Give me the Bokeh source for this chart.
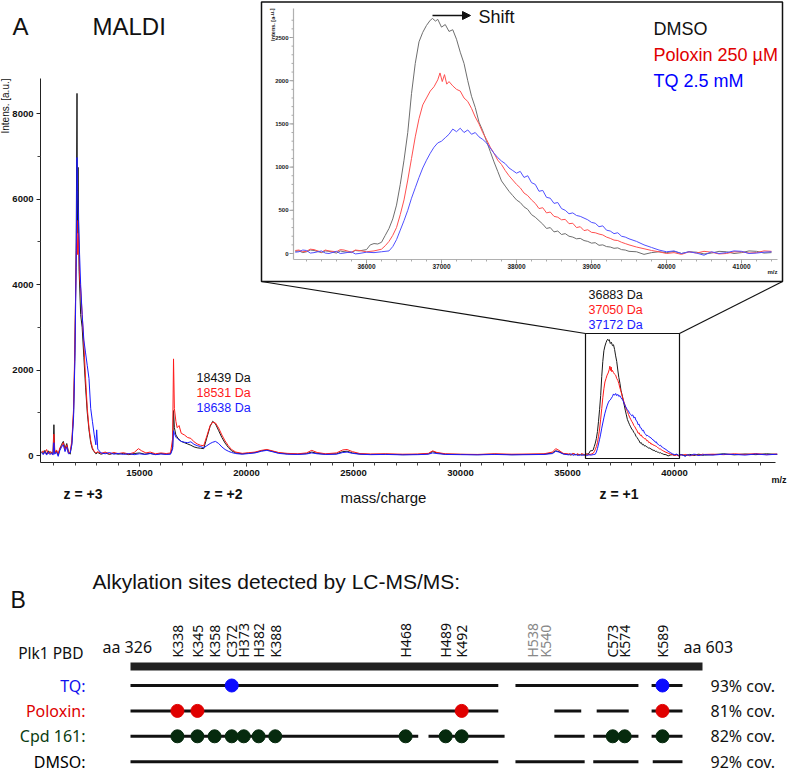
import math
from bokeh.plotting import figure
from bokeh.models import Range1d, LinearAxis, FixedTicker, Arrow, NormalHead
from bokeh.layouts import column
from bokeh.embed import file_html
from bokeh.resources import INLINE
from bokeh.core.properties import value

# ---------------- DATA ----------------
# MALDI spectrum, low-mass part (m/z, intensity)
dmso_lo = [(10420, 90), (10500, 40), (10580, 120), (10660, 30), (10740, 110), (10820, 50), (10900, 80),
           (10960, 40), (11000, 720), (11040, 60), (11120, 110), (11200, 10), (11280, 150), (11360, 260),
           (11440, 330), (11520, 160), (11600, 280), (11680, 90), (11760, 30), (11840, 300), (11920, 1000),
           (11980, 2400), (12040, 4800), (12080, 8470), (12100, 5200), (12130, 6740), (12180, 4300),
           (12250, 3300), (12320, 3000), (12400, 2300), (12480, 1600), (12560, 1000), (12640, 600),
           (12720, 300), (12800, 150), (12880, 90), (12960, 40), (13050, 70), (13200, 30), (13400, 60),
           (13600, 25), (13800, 55), (14000, 30), (14250, 50), (14500, 20), (14750, 45), (15000, 60),
           (15250, 30), (15500, 50), (15750, 25), (16000, 45), (16250, 30), (16450, 40), (16550, 200),
           (16590, 1050), (16630, 650), (16700, 480), (16800, 400), (16950, 330), (17100, 300), (17250, 270),
           (17400, 240), (17550, 200), (17700, 180), (17850, 170), (18000, 160), (18150, 420), (18300, 680),
           (18420, 800), (18550, 740), (18700, 580), (18850, 420), (19000, 290), (19150, 190), (19300, 110),
           (19500, 60), (19800, 40), (20100, 55), (20400, 70), (20700, 110), (20950, 130), (21200, 100),
           (21500, 60), (21900, 40), (22400, 30), (22800, 45), (23050, 80), (23300, 50), (23700, 30),
           (24200, 40), (24500, 90), (24700, 100), (24950, 60), (25300, 35), (25800, 25), (26500, 30),
           (27300, 20), (28000, 25), (28500, 40), (28700, 90), (28900, 60), (29300, 30), (30000, 25),
           (30800, 20), (31600, 30), (32400, 20), (33200, 25), (33900, 30), (34300, 60), (34450, 110),
           (34600, 90), (34800, 40)]
polo_lo = [(10420, 60), (10500, 110), (10580, 50), (10660, 140), (10740, 40), (10820, 100), (10900, 30),
           (10960, 90), (11000, 500), (11040, 50), (11120, 130), (11200, 40), (11280, 180), (11360, 220),
           (11440, 300), (11520, 120), (11600, 250), (11680, 60), (11760, 80), (11840, 350), (11920, 1100),
           (11980, 2600), (12040, 4600), (12080, 5500), (12110, 4700), (12150, 5200), (12200, 4200),
           (12250, 3900), (12320, 3300), (12400, 2600), (12480, 1800), (12560, 1100), (12640, 650),
           (12720, 350), (12800, 180), (12880, 100), (12960, 60), (13050, 90), (13200, 50), (13400, 80),
           (13600, 40), (13800, 70), (14000, 45), (14250, 65), (14500, 35), (14750, 70), (14950, 160),
           (15100, 110), (15300, 60), (15500, 80), (15750, 40), (16000, 60), (16250, 45), (16450, 60),
           (16550, 400), (16590, 2260), (16630, 1100), (16700, 800), (16760, 650), (16850, 700), (16950, 520),
           (17100, 480), (17250, 420), (17400, 400), (17550, 320), (17700, 270), (17850, 240), (18000, 230),
           (18150, 460), (18300, 700), (18420, 780), (18550, 760), (18700, 640), (18850, 480), (19000, 340),
           (19150, 230), (19300, 140), (19500, 80), (19800, 50), (20100, 65), (20400, 80), (20700, 120),
           (20950, 140), (21200, 110), (21500, 70), (21900, 50), (22400, 40), (22800, 60), (23050, 120),
           (23300, 70), (23700, 40), (24200, 60), (24500, 130), (24700, 140), (24950, 90), (25300, 45),
           (25800, 35), (26500, 40), (27300, 30), (28000, 35), (28500, 50), (28700, 110), (28900, 70),
           (29300, 40), (30000, 30), (30800, 25), (31600, 40), (32400, 30), (33200, 35), (33900, 40),
           (34300, 80), (34450, 160), (34600, 120), (34800, 50)]
tq_lo = [(10420, 70), (10500, 20), (10580, 90), (10660, 10), (10740, 80), (10820, 20), (10900, 60),
         (10960, 10), (11000, 300), (11040, 30), (11120, 80), (11200, -20), (11280, 120), (11360, 200),
         (11440, 250), (11520, 90), (11600, 200), (11680, 40), (11760, 60), (11840, 250), (11920, 900),
         (11980, 2200), (12040, 4400), (12080, 6970), (12110, 6200), (12150, 5500), (12200, 4700),
         (12250, 4000), (12320, 3300), (12400, 2700), (12480, 2400), (12560, 2100), (12640, 1800),
         (12720, 1100), (12800, 800), (12880, 500), (12960, 250), (13000, 600), (13050, 150), (13200, 60),
         (13400, 40), (13600, 70), (13800, 30), (14000, 50), (14250, 25), (14500, 45), (14750, 20),
         (15000, 40), (15250, 25), (15500, 45), (15750, 20), (16000, 35), (16250, 25), (16450, 30),
         (16550, 150), (16590, 580), (16630, 520), (16700, 430), (16800, 380), (16950, 330), (17100, 310),
         (17250, 300), (17400, 320), (17550, 260), (17700, 230), (17850, 210), (18000, 180), (18150, 230),
         (18300, 280), (18420, 310), (18550, 330), (18700, 280), (18850, 200), (19000, 140), (19150, 100),
         (19300, 70), (19500, 45), (19800, 30), (20100, 45), (20400, 60), (20700, 100), (20950, 120),
         (21200, 90), (21500, 50), (21900, 30), (22400, 25), (22800, 35), (23050, 60), (23300, 40),
         (23700, 25), (24200, 30), (24500, 70), (24700, 80), (24950, 50), (25300, 30), (25800, 20),
         (26500, 25), (27300, 15), (28000, 20), (28500, 30), (28700, 60), (28900, 45), (29300, 25),
         (30000, 20), (30800, 15), (31600, 25), (32400, 15), (33200, 20), (33900, 25), (34300, 45),
         (34450, 100), (34600, 80), (34800, 35)]

# +1 charge state region (shown in the inset and in the main spectrum)
dmso_hi = [(35050, 25), (35100, 30), (35150, 10), (35200, 20), (35250, 40), (35300, 35), (35400, 10), (35450, 30),
           (35500, 25), (35600, 5), (35650, 30), (35700, 20), (35800, 10), (35850, 35), (35900, 30), (36000, 45),
           (36050, 100), (36100, 115), (36150, 110), (36200, 130), (36250, 210), (36300, 290), (36350, 400),
           (36400, 560), (36450, 800), (36500, 1080), (36550, 1400), (36600, 1850), (36650, 2200),
           (36700, 2450), (36750, 2560), (36800, 2640), (36850, 2700), (36880, 2720), (36920, 2690),
           (36950, 2710), (37000, 2620), (37050, 2650), (37100, 2570), (37150, 2590), (37200, 2480),
           (37250, 2330), (37300, 2200), (37350, 2000), (37400, 1820), (37450, 1690), (37500, 1520),
           (37550, 1420), (37600, 1300), (37650, 1180), (37700, 1060), (37750, 950), (37800, 840),
           (37850, 780), (37900, 720), (37950, 670), (38000, 620), (38050, 590), (38100, 540), (38150, 510),
           (38200, 450), (38250, 420), (38300, 380), (38350, 340), (38400, 290), (38450, 300), (38500, 250),
           (38550, 260), (38600, 220), (38650, 230), (38700, 200), (38750, 190), (38800, 170), (38850, 175),
           (38900, 150), (38950, 140), (39000, 120), (39050, 125), (39100, 95), (39150, 100), (39200, 80),
           (39250, 75), (39300, 60), (39350, 65), (39400, 45), (39450, 40), (39500, 25), (39600, 20),
           (39700, -10), (39800, 10), (39900, 20), (40000, 10), (40100, 25), (40200, 0), (40300, 20),
           (40400, 15), (40500, -5), (40600, 5), (40700, 25), (40800, 20), (40900, 0), (41000, 10),
           (41100, 30), (41200, 25), (41300, 5), (41400, 10)]
polo_hi = [(35050, 35), (35100, 40), (35150, 20), (35200, 25), (35250, 50), (35300, 45), (35400, 15),
           (35450, 40), (35500, 30), (35600, 20), (35650, 45), (35700, 40), (35800, 15), (35850, 40),
           (35900, 35), (36000, 20), (36100, 30), (36200, 50), (36250, 90), (36300, 140), (36350, 210),
           (36400, 300), (36450, 450), (36500, 620), (36550, 850), (36600, 1100), (36650, 1350),
           (36700, 1560), (36750, 1720), (36800, 1800), (36850, 1880), (36900, 1930), (36950, 2010),
           (36980, 2090), (37010, 1990), (37040, 2070), (37070, 1960), (37100, 1990), (37150, 1940),
           (37200, 1900), (37250, 1880), (37300, 1800), (37350, 1760), (37400, 1680), (37450, 1580),
           (37500, 1500), (37550, 1400), (37600, 1320), (37650, 1230), (37700, 1160), (37750, 1080),
           (37800, 1030), (37850, 960), (37900, 900), (37950, 850), (38000, 800), (38050, 760), (38100, 700),
           (38150, 670), (38200, 620), (38250, 580), (38300, 520), (38350, 530), (38400, 470), (38450, 480),
           (38500, 430), (38550, 420), (38600, 390), (38650, 395), (38700, 345), (38750, 350), (38800, 300),
           (38850, 310), (38900, 265), (38950, 275), (39000, 245), (39050, 240), (39100, 225), (39150, 215),
           (39200, 190), (39250, 175), (39300, 155), (39350, 150), (39400, 130), (39450, 115), (39500, 100),
           (39600, 75), (39700, 55), (39800, 35), (39900, 20), (40000, 0), (40100, 10), (40200, -10),
           (40300, 20), (40400, 5), (40500, 25), (40600, 15), (40700, -5), (40800, 0), (40900, 20),
           (41000, 20), (41100, 5), (41200, 10), (41300, 30), (41400, 25)]
tq_hi = [(35050, 15), (35100, 20), (35150, 40), (35200, 35), (35250, 5), (35300, 10), (35400, 30),
         (35450, 5), (35500, 0), (35600, 25), (35650, 0), (35700, 5), (35800, 20), (35850, -5),
         (35900, 0), (36000, 15), (36100, 10), (36200, 20), (36300, 30), (36350, 80), (36400, 160),
         (36450, 270), (36500, 380), (36550, 500), (36600, 640), (36650, 760), (36700, 880), (36750, 990),
         (36800, 1080), (36850, 1160), (36900, 1230), (36950, 1280), (37000, 1300), (37050, 1340),
         (37100, 1380), (37150, 1440), (37200, 1410), (37250, 1450), (37300, 1400), (37350, 1430),
         (37400, 1380), (37450, 1400), (37500, 1350), (37550, 1320), (37600, 1280), (37650, 1220),
         (37700, 1160), (37750, 1110), (37800, 1070), (37850, 1040), (37900, 990), (37950, 960),
         (38000, 930), (38050, 950), (38100, 880), (38150, 900), (38200, 820), (38250, 800), (38300, 720),
         (38350, 730), (38400, 650), (38450, 640), (38500, 580), (38550, 590), (38600, 520), (38650, 500),
         (38700, 460), (38750, 470), (38800, 440), (38850, 430), (38900, 410), (38950, 390), (39000, 360),
         (39050, 350), (39100, 310), (39150, 320), (39200, 270), (39250, 260), (39300, 230), (39350, 240),
         (39400, 200), (39450, 190), (39500, 170), (39600, 140), (39700, 100), (39800, 70), (39900, 40),
         (40000, 20), (40100, 30), (40200, 0), (40300, 20), (40400, 5), (40500, -20), (40600, 20),
         (40700, 0), (40800, 10), (40900, 30), (41000, 25), (41100, 0), (41200, 5), (41300, 15), (41400, 20)]

dmso_tail = [(41800, 20), (42300, 40), (42800, 15), (43300, 35), (43800, 20), (44300, 40), (44800, 25)]
polo_tail = [(41800, 30), (42300, 20), (42800, 40), (43300, 25), (43800, 45), (44300, 20), (44800, 35)]
tq_tail = [(41800, 10), (42300, 30), (42800, 25), (43300, 10), (43800, 35), (44300, 15), (44800, 30)]

main_xticks = [15000, 20000, 25000, 30000, 35000, 40000]
main_xminor = [k * 1000 for k in range(11, 45)]
main_yticks = [0, 2000, 4000, 6000, 8000]
main_yminor = [1000, 3000, 5000, 7000]
inset_xticks = [36000, 37000, 38000, 39000, 40000, 41000]
inset_xminor = [35200 + 200 * k for k in range(32)]
inset_yticks = [0, 500, 1000, 1500, 2000, 2500]
inset_yminor = [100 * k for k in range(28)]

low_labels = ["18439 Da", "18531 Da", "18638 Da"]
high_labels = ["36883 Da", "37050 Da", "37172 Da"]
legend_labels = ["DMSO", "Poloxin 250 µM", "TQ 2.5 mM"]
z_labels = ["z = +3", "z = +2", "z = +1"]

# Panel B: sites (position along the PBD bar, % of bar length)
site_names = ["K338", "K345", "K358", "C372", "H373", "H382", "K388", "H468", "H489", "K492",
              "H538", "K540", "C573", "K574", "K589"]
site_pos = [8.2, 11.7, 14.7, 17.7, 19.8, 22.4, 25.3, 48.1, 55.1, 57.9, 70.3, 72.6, 84.3, 86.4, 93.0]
site_color = ["#111"] * 10 + ["#888", "#888"] + ["#111"] * 3
row_names = ["TQ:", "Poloxin:", "Cpd 161:", "DMSO:"]
row_colors = ["#1010ee", "#dd0000", "#0a3d12", "#000000"]
dot_colors = ["#0a0aff", "#e00000", "#062a0e", "#000000"]
row_cov = ["93% cov.", "81% cov.", "82% cov.", "92% cov."]
row_segments = [
    [(0, 64.3), (67.3, 88.8), (91.1, 96.5)],
    [(0, 64.3), (74.1, 78.8), (81.5, 87.1), (91.1, 96.5)],
    [(0, 50.3), (52.1, 65.4), (74.1, 79.4), (80.9, 88.8), (91.1, 96.5)],
    [(0, 64.3), (67.3, 79.4), (80.9, 88.8), (91.3, 96.5)],
]
row_sites = [
    ["C372", "K589"],
    ["K338", "K345", "K492", "K589"],
    ["K338", "K345", "K358", "C372", "H373", "H382", "K388", "H468", "H489", "K492", "C573", "K574", "K589"],
    [],
]

# ---------------- LAYOUT HELPERS (page pixel -> data) ----------------
def mx(px): return 15000 + (px - 139) / 0.0214
def my(py): return (455 - py) / 85.5 * 2000
def ix(px): return 36000 + (px - 366) / 0.075
def iy(py): return (253 - py) / 43.2 * 500

SANS = "Liberation Sans"
HA = 508

pa = figure(width=787, height=HA, output_backend="svg", toolbar_location=None,
            x_range=Range1d(mx(0), mx(787)), y_range=Range1d(my(HA), my(0)),
            x_axis_type=None, y_axis_type=None,
            min_border_left=0, min_border_right=0, min_border_top=0, min_border_bottom=0)
pa.outline_line_color = None
pa.background_fill_color = "white"
pa.border_fill_color = "white"
pa.extra_x_ranges = {"ix": Range1d(ix(0), ix(787))}
pa.extra_y_ranges = {"iy": Range1d(iy(HA), iy(0))}

xa = LinearAxis(bounds=(mx(40), mx(775)), fixed_location=my(462),
                ticker=FixedTicker(ticks=main_xticks, minor_ticks=main_xminor))
ya = LinearAxis(bounds=(my(462), my(78)), fixed_location=mx(40),
                ticker=FixedTicker(ticks=main_yticks, minor_ticks=main_yminor))
for ax in (xa, ya):
    ax.axis_line_color = "#222"
    ax.major_tick_line_color = "#222"
    ax.minor_tick_line_color = "#444"
    ax.major_tick_in = 0
    ax.major_tick_out = 4
    ax.minor_tick_in = 0
    ax.minor_tick_out = 3
    ax.major_label_text_font = SANS
    ax.major_label_text_font_size = "9.5px"
    ax.major_label_text_font_style = "bold"
    ax.major_label_text_color = "#111"
    ax.major_label_standoff = 3
pa.add_layout(xa, "below")
pa.add_layout(ya, "left")

# main spectra
series = [(dmso_lo, dmso_hi, dmso_tail, "#1a1a1a", "#6e6e6e"),
          (polo_lo, polo_hi, polo_tail, "#ff1a1a", "#ff5050"),
          (tq_lo, tq_hi, tq_tail, "#1a1aff", "#5050ff")]
for lo, hi, tail, c_main, c_in in series:
    pts = lo + hi + tail
    pa.line([p[0] for p in pts], [p[1] for p in pts], line_color=c_main, line_width=1)

# zoom box on main spectrum and connectors
pa.quad(left=[mx(585)], right=[mx(679)], bottom=[my(458)], top=[my(333)],
        fill_color=None, line_color="#111", line_width=1.2)
pa.segment(x0=[mx(261), mx(782)], y0=[my(281), my(281)], x1=[mx(585), mx(679)], y1=[my(333), my(333)],
           line_color="#111", line_width=1.2)

# inset frame
pa.quad(left=[ix(261)], right=[ix(782)], bottom=[iy(281)], top=[iy(1.5)],
        fill_color="white", line_color="#111", line_width=1.5,
        x_range_name="ix", y_range_name="iy")

# inset axes
AX = "#b0b0b0"
pa.segment(x0=[ix(293), ix(293)], y0=[iy(259), iy(259)], x1=[ix(293), ix(777)], y1=[iy(8), iy(259)],
           line_color=AX, line_width=1.2, x_range_name="ix", y_range_name="iy")
pa.segment(x0=[ix(289)] * len(inset_yticks), x1=[ix(293)] * len(inset_yticks),
           y0=inset_yticks, y1=inset_yticks, line_color="#999", line_width=1,
           x_range_name="ix", y_range_name="iy")
pa.segment(x0=[ix(291)] * len(inset_yminor), x1=[ix(293)] * len(inset_yminor),
           y0=inset_yminor, y1=inset_yminor, line_color="#aaa", line_width=1,
           x_range_name="ix", y_range_name="iy")
pa.segment(x0=inset_xticks, x1=inset_xticks, y0=[iy(259)] * len(inset_xticks), y1=[iy(263)] * len(inset_xticks),
           line_color="#999", line_width=1, x_range_name="ix", y_range_name="iy")
pa.segment(x0=inset_xminor, x1=inset_xminor, y0=[iy(259)] * len(inset_xminor), y1=[iy(261)] * len(inset_xminor),
           line_color="#aaa", line_width=1, x_range_name="ix", y_range_name="iy")
pa.text(x=[ix(288)] * len(inset_yticks), y=inset_yticks, text=[str(v) for v in inset_yticks],
        text_font=value(SANS), text_font_size="6px", text_font_style="bold", text_color="#222",
        text_align="right", text_baseline="middle", x_range_name="ix", y_range_name="iy")
pa.text(x=inset_xticks, y=[iy(263)] * len(inset_xticks), text=[str(v) for v in inset_xticks],
        text_font=value(SANS), text_font_size="6.5px", text_font_style="bold", text_color="#222",
        text_align="center", text_baseline="top", x_range_name="ix", y_range_name="iy")
pa.text(x=[ix(777)], y=[iy(271)], text=["m/z"], text_font=value(SANS), text_font_size="6px",
        text_font_style="bold", text_color="#222", text_align="right", text_baseline="middle",
        x_range_name="ix", y_range_name="iy")
pa.text(x=[ix(272)], y=[iy(8)], text=["Intens. [a.u.]"], angle=[math.pi / 2], text_font=value(SANS),
        text_font_size="5.5px", text_font_style="bold", text_color="#222", text_align="right",
        text_baseline="middle", x_range_name="ix", y_range_name="iy")

# inset spectra
for lo, hi, tail, c_main, c_in in series:
    pa.line([p[0] for p in hi], [p[1] for p in hi], line_color=c_in, line_width=1,
            x_range_name="ix", y_range_name="iy")

# shift arrow and legend in inset
pa.add_layout(Arrow(x_start=ix(432), y_start=iy(15), x_end=ix(470), y_end=iy(15),
                    end=NormalHead(size=8, fill_color="#111", line_color="#111"),
                    line_color="#111", line_width=1.5, x_range_name="ix", y_range_name="iy"))
pa.text(x=[ix(478)], y=[iy(16)], text=["Shift"], text_font=value(SANS), text_font_size="18px",
        text_color="#111", text_align="left", text_baseline="middle", x_range_name="ix", y_range_name="iy")
pa.text(x=[ix(653)] * 3, y=[iy(28), iy(54), iy(80)], text=legend_labels,
        text_color=["#111", "#e00000", "#0000ff"], text_font=value(SANS), text_font_size="18px",
        text_align="left", text_baseline="middle", x_range_name="ix", y_range_name="iy")

# Da annotations and panel texts
pa.text(x=[mx(196)] * 3, y=[my(377), my(392), my(407)], text=low_labels,
        text_color=["#111", "#ff1a1a", "#1a1aff"], text_font=value(SANS), text_font_size="12.5px",
        text_align="left", text_baseline="middle")
pa.text(x=[mx(588)] * 3, y=[my(294), my(309), my(324)], text=high_labels,
        text_color=["#111", "#ff1a1a", "#1a1aff"], text_font=value(SANS), text_font_size="12.5px",
        text_align="left", text_baseline="middle")
pa.text(x=[mx(12), mx(92)], y=[my(26), my(26)], text=["A", "MALDI"], text_font=value(SANS),
        text_font_size="24px", text_color="#111", text_align="left", text_baseline="middle")
pa.text(x=[mx(5)], y=[my(78)], text=["Intens. [a.u.]"], angle=[math.pi / 2], text_font=value(SANS),
        text_font_size="10px", text_color="#111", text_align="right", text_baseline="middle")
pa.text(x=[mx(63), mx(203), mx(599)], y=[my(493)] * 3, text=z_labels, text_font=value(SANS),
        text_font_size="14px", text_font_style="bold", text_color="#111",
        text_align="left", text_baseline="middle")
pa.text(x=[mx(340)], y=[my(497)], text=["mass/charge"], text_font=value(SANS), text_font_size="15px",
        text_color="#111", text_align="left", text_baseline="middle")
pa.text(x=[mx(786)], y=[my(479)], text=["m/z"], text_font=value(SANS), text_font_size="9px",
        text_font_style="bold", text_color="#111", text_align="right", text_baseline="middle")

# ---------------- PANEL B ----------------
def bx(px): return (px - 130) / 5.72
def by(py): return (py - 685) / 25.4

BF = "Noto Sans"
HB = 772 - HA
pb = figure(width=787, height=HB, output_backend="svg", toolbar_location=None,
            x_range=Range1d(bx(0), bx(787)), y_range=Range1d(by(772), by(HA)),
            x_axis_type=None, y_axis_type=None,
            min_border_left=0, min_border_right=0, min_border_top=0, min_border_bottom=0)
pb.outline_line_color = None

pb.text(x=[bx(10)], y=[by(599)], text=["B"], text_font=value(SANS), text_font_size="23px",
        text_color="#111", text_align="left", text_baseline="middle")
pb.text(x=[bx(92)], y=[by(581)], text=["Alkylation sites detected by LC-MS/MS:"], text_font=value(SANS),
        text_font_size="21px", text_color="#111", text_align="left", text_baseline="middle")
pb.text(x=site_pos, y=[by(657)] * len(site_pos), text=site_names, angle=[math.pi / 2] * len(site_pos),
        text_color=site_color, text_font=value(BF), text_font_size="14px",
        text_align="left", text_baseline="middle")
pb.text(x=[bx(83)], y=[by(652)], text=["Plk1 PBD"], text_font=value(BF), text_font_size="15.5px",
        text_color="#111", text_align="right", text_baseline="middle")
pb.text(x=[bx(102), bx(683)], y=[by(646), by(646)], text=["aa 326", "aa 603"], text_font=value(BF),
        text_font_size="16px", text_color="#111", text_align="left", text_baseline="middle")
pb.hbar(y=[by(666)], left=[0], right=[100], height=[8 / 25.4], fill_color="#222", line_color=None)

rows = list(range(len(row_names)))
pb.text(x=[bx(85)] * 4, y=rows, text=row_names, text_color=row_colors, text_font=value(BF),
        text_font_size="16px", text_align="right", text_baseline="middle")
pb.text(x=[bx(710)] * 4, y=rows, text=row_cov, text_color="#111", text_font=value(BF),
        text_font_size="16px", text_align="left", text_baseline="middle")
for r, segs in enumerate(row_segments):
    pb.segment(x0=[s[0] for s in segs], x1=[s[1] for s in segs], y0=[r] * len(segs), y1=[r] * len(segs),
               line_color="#111", line_width=3)
for r, names in enumerate(row_sites):
    if names:
        xs = [site_pos[site_names.index(n)] for n in names]
        pb.scatter(x=xs, y=[r] * len(xs), size=13, fill_color=dot_colors[r], line_color=dot_colors[r])

layout = column(pa, pb)
open("out.html", "w").write(file_html(layout, INLINE))
